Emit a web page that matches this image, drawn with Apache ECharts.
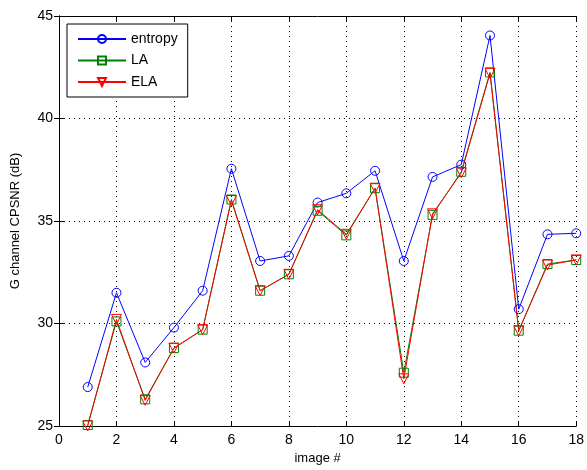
<!DOCTYPE html>
<html><head><meta charset="utf-8">
<script src="https://cdn.jsdelivr.net/npm/echarts@6/dist/echarts.min.js"></script>
<style>html,body{margin:0;padding:0;background:#fff}#c{width:587px;height:470px}</style>
</head><body><div id="c"></div>
<script>
const imageIdx = [1,2,3,4,5,6,7,8,9,10,11,12,13,14,15,16,17,18];
const entropy = [26.9,31.5,28.1,29.8,31.6,37.55,33.05,33.3,35.9,36.35,37.45,33.05,37.15,37.75,44.05,30.7,34.35,34.4];
const LA      = [25.05,30.1,26.3,28.8,29.7,36.05,31.6,32.4,35.5,34.3,36.6,27.6,35.3,37.4,42.25,29.65,32.9,33.1];
const ELA     = [25.0,30.2,26.25,28.8,29.7,36.0,31.6,32.4,35.55,34.35,36.6,27.3,35.35,37.35,42.2,29.65,32.85,33.1];
const xTicks = [0,2,4,6,8,10,12,14,16,18];
const yTicks = [25,30,35,40,45];

const pts = a => imageIdx.map((x,i)=>[x,a[i]]);
const font = 'Liberation Sans';
const mk = (name, data, color, symbol, rot, size) => ({
  name, type:'line', data: pts(data), symbol, symbolSize:size, symbolRotate:rot,
  lineStyle:{color, width:1}, itemStyle:{color:'rgba(255,255,255,0)', borderColor:color, borderWidth:1},
  emphasis:{disabled:true}, animation:false, z: 3
});
const chart = echarts.init(document.getElementById('c'));
chart.setOption({
  animation:false,
  grid:{left:59, right:5, top:16, bottom:44, show:false},
  legend:{
    orient:'vertical', left:67, top:24, padding:[8,10,8,10],
    itemWidth:48, itemHeight:10, itemGap:7.5,
    backgroundColor:'#fff', borderColor:'#000', borderWidth:1, borderRadius:0,
    textStyle:{fontFamily:font, fontSize:14, color:'#000', width:50},
    data:['entropy','LA','ELA']
  },
  xAxis:[{
    type:'value', min:0, max:18, interval:2, position:'bottom',
    name:'image #', nameLocation:'middle', nameGap:22,
    nameTextStyle:{fontFamily:font, fontSize:13, color:'#000'},
    axisLine:{lineStyle:{color:'#000', width:1}},
    axisTick:{inside:true, length:5, lineStyle:{color:'#000'}},
    axisLabel:{fontFamily:font, fontSize:14, color:'#000', margin:7},
    splitLine:{show:true, lineStyle:{type:[1,4], color:'#000', width:1}}
  },{
    type:'value', min:0, max:18, interval:2, position:'top',
    axisLine:{lineStyle:{color:'#000', width:1}},
    axisTick:{inside:true, length:5, lineStyle:{color:'#000'}},
    axisLabel:{show:false}, splitLine:{show:false}
  }],
  yAxis:[{
    type:'value', min:25, max:45, interval:5, position:'left',
    name:'G channel CPSNR (dB)', nameLocation:'middle', nameGap:37, nameRotate:90,
    nameTextStyle:{fontFamily:font, fontSize:13, color:'#000'},
    axisLine:{show:true, lineStyle:{color:'#000', width:1}},
    axisTick:{show:true, inside:true, length:5, lineStyle:{color:'#000'}},
    axisLabel:{fontFamily:font, fontSize:14, color:'#000', margin:6},
    splitLine:{show:true, lineStyle:{type:[1,4], color:'#000', width:1}}
  },{
    type:'value', min:25, max:45, interval:5, position:'right',
    axisLine:{show:true, lineStyle:{color:'#000', width:1}},
    axisTick:{show:true, inside:true, length:5, lineStyle:{color:'#000'}},
    axisLabel:{show:false}, splitLine:{show:false}
  }],
  series:[
    mk('entropy', entropy, '#0000ff', 'circle', 0, 9),
    mk('LA', LA, '#008000', 'rect', 0, 9),
    mk('ELA', ELA, '#ff0000', 'triangle', 180, 10)
  ]
});
</script></body></html>
